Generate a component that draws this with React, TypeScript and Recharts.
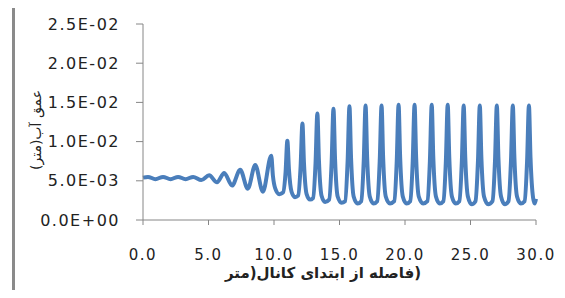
import { LineChart, Line, XAxis, YAxis, Label } from "recharts";

// distance along the canal (m) and water depth (m)
const distance = [
  0.0, 0.38, 0.95, 1.53, 2.1, 2.68, 3.25, 3.83, 4.45, 5.05, 5.65, 6.2, 6.8, 7.42, 8.0, 8.57, 9.15,
  9.79, 9.92, 10.1, 10.4, 10.69, 10.88,
  11.02, 11.14, 11.34, 11.6, 11.84, 12.03,
  12.17, 12.29, 12.49, 12.75, 12.98, 13.17,
  13.31, 13.43, 13.63, 13.9, 14.21, 14.4,
  14.54, 14.66, 14.86, 15.15, 15.43, 15.62,
  15.76, 15.88, 16.08, 16.38, 16.66, 16.85,
  16.99, 17.11, 17.31, 17.6, 17.88, 18.07,
  18.21, 18.33, 18.53, 18.85, 19.18, 19.37,
  19.51, 19.63, 19.83, 20.12, 20.4, 20.59,
  20.73, 20.85, 21.05, 21.38, 21.71, 21.9,
  22.04, 22.16, 22.36, 22.65, 22.93, 23.12,
  23.26, 23.38, 23.58, 23.87, 24.15, 24.34,
  24.48, 24.6, 24.8, 25.09, 25.38, 25.57,
  25.71, 25.83, 26.03, 26.35, 26.68, 26.87,
  27.01, 27.13, 27.33, 27.62, 27.9, 28.09,
  28.23, 28.35, 28.55, 28.84, 29.13, 29.32,
  29.46, 29.58, 29.78, 29.9, 30.0,
];

const depth = [
  0.0054, 0.0055, 0.0052, 0.0055, 0.0052, 0.0055, 0.0052, 0.0055, 0.0051, 0.0057, 0.0048, 0.006, 0.0044, 0.0064, 0.004, 0.007, 0.0036,
  0.0082, 0.0056, 0.004, 0.0033, 0.0035, 0.006,
  0.0101, 0.0065, 0.0036, 0.0029, 0.0031, 0.0068,
  0.0123, 0.0072, 0.0033, 0.0026, 0.0028, 0.0072,
  0.0136, 0.0076, 0.0031, 0.0023, 0.0026, 0.0074,
  0.0142, 0.0078, 0.003, 0.0022, 0.0024, 0.0075,
  0.0145, 0.008, 0.003, 0.0021, 0.0024, 0.0075,
  0.0146, 0.008, 0.003, 0.0021, 0.0024, 0.0075,
  0.0146, 0.008, 0.003, 0.0021, 0.0024, 0.0075,
  0.0147, 0.008, 0.003, 0.0021, 0.0024, 0.0075,
  0.0147, 0.008, 0.003, 0.0021, 0.0024, 0.0075,
  0.0147, 0.008, 0.003, 0.0021, 0.0024, 0.0075,
  0.0147, 0.008, 0.003, 0.0021, 0.0024, 0.0075,
  0.0146, 0.008, 0.003, 0.002, 0.0024, 0.0075,
  0.0146, 0.008, 0.003, 0.002, 0.0024, 0.0075,
  0.0146, 0.008, 0.003, 0.002, 0.0024, 0.0075,
  0.0146, 0.008, 0.003, 0.0021, 0.0024, 0.0075,
  0.0146, 0.008, 0.0028, 0.0021, 0.0027,
];

const xTicks = [0, 5, 10, 15, 20, 25, 30];
const yTicks = [0, 0.005, 0.01, 0.015, 0.02, 0.025];

// drawn right-to-left, as in the original figure
const xTitle = "(فاصله از ابتدای کانال(متر";
const yTitle = "عمق آب(متر)";

const chartData = distance.map((x, i) => ({ x, depth: depth[i] }));

// Excel style scientific labels, e.g. 5.0E-03
const formatSci = (v: number) => {
  const [m, e] = v.toExponential(1).split("e");
  const exp = Number(e);
  return `${m}E${exp < 0 ? "-" : "+"}${String(Math.abs(exp)).padStart(2, "0")}`;
};

const font = "DejaVu Sans";
const axisColor = "#868686";

export default function App() {
  return (
    <div style={{ position: "relative", width: 565, height: 298, margin: -8, background: "#fff" }}>
      <svg
        width={565}
        height={298}
        style={{ position: "absolute", left: 0, top: 0 }}
      >
        <line x1={13.5} y1={3} x2={13.5} y2={298} stroke="#8a8a8a" strokeWidth={3} />
        <line x1={12} y1={4.5} x2={565} y2={4.5} stroke="#8a8a8a" strokeWidth={3} />
        <line x1={15} y1={296.5} x2={565} y2={296.5} stroke="#dcdcdc" strokeWidth={1} />
      </svg>
      <div style={{ position: "absolute", left: 0, top: 0 }}>
        <LineChart width={565} height={298} data={chartData} margin={{ top: 24, right: 29, left: 0, bottom: 28 }}>
          <XAxis
            dataKey="x"
            type="number"
            domain={[0, 30]}
            ticks={xTicks}
            tickFormatter={(v: number) => v.toFixed(1)}
            tick={{ fill: "#222", fontSize: 15, fontFamily: font, letterSpacing: 1.5 }}
            stroke={axisColor}
            tickSize={5}
            tickMargin={24}
            height={50}
            interval={0}
          >
            <Label
              content={() => (
                <text
                  x={323}
                  y={278}
                  textAnchor="middle"
                  direction="rtl"
                  fontSize={15}
                  fontWeight="bold"
                  fontFamily={font}
                  fill="#222"
                >
                  {xTitle}
                </text>
              )}
            />
          </XAxis>
          <YAxis
            type="number"
            domain={[0, 0.025]}
            ticks={yTicks}
            tickFormatter={formatSci}
            tick={{ fill: "#222", fontSize: 16, fontFamily: font, letterSpacing: 1.5 }}
            stroke={axisColor}
            tickSize={7}
            tickMargin={16}
            width={143}
            interval={0}
          >
            <Label
              content={() => (
                <text
                  x={36}
                  y={130}
                  transform="rotate(-90 36 130)"
                  textAnchor="middle"
                  dominantBaseline="central"
                  fontSize={14}
                  fontFamily={font}
                  fill="#222"
                >
                  {yTitle}
                </text>
              )}
            />
          </YAxis>
          <Line
            type="monotone"
            dataKey="depth"
            stroke="#4a7ebb"
            strokeWidth={4}
            strokeLinejoin="round"
            dot={false}
            isAnimationActive={false}
          />
        </LineChart>
      </div>
    </div>
  );
}
